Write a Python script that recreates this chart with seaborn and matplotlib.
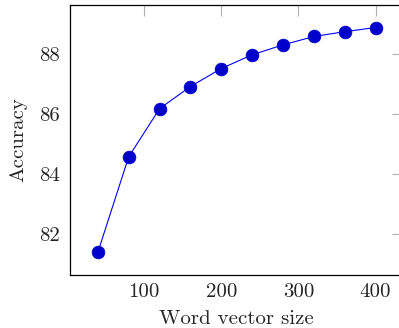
import matplotlib
matplotlib.use("Agg")
import matplotlib.pyplot as plt
import pandas as pd
import seaborn as sns

# Daten
vector_size = [40, 80, 120, 160, 200, 240, 280, 320, 360, 400]
accuracy = [81.38, 84.57, 86.18, 86.92, 87.52, 87.98, 88.31, 88.59, 88.75, 88.89]
x_ticks = [100, 200, 300, 400]
y_ticks = [82, 84, 86, 88]

sns.set_style("white")
plt.rcParams["font.family"] = ["cmr10", "DejaVu Serif"]
plt.rcParams["axes.formatter.use_mathtext"] = True
plt.rcParams["mathtext.fontset"] = "cm"

df = pd.DataFrame({"size": vector_size, "acc": accuracy})

fig = plt.figure(figsize=(3.99, 3.28), dpi=100)
ax = fig.add_axes([70 / 399, (328 - 275) / 328, (403.4 - 70) / 399, (275 - 5) / 328])

sns.lineplot(data=df, x="size", y="acc", ax=ax, color=(0, 0, 1), linewidth=0.8,
             marker="o", markersize=9.2, markerfacecolor=(0, 0, 0.8),
             markeredgecolor=(0, 0, 0.8), markeredgewidth=0.5)

# 10% Rand wie in pgfplots
xr = max(vector_size) - min(vector_size)
yr = max(accuracy) - min(accuracy)
ax.set_xlim(min(vector_size) - 0.1 * xr, max(vector_size) + 0.1 * xr)
ax.set_ylim(min(accuracy) - 0.1 * yr, max(accuracy) + 0.1 * yr)

ax.set_xticks(x_ticks)
ax.set_yticks(y_ticks)
ax.set_xticklabels([str(t) for t in x_ticks])
ax.set_yticklabels([str(t) for t in y_ticks])
ax.tick_params(direction="in", length=8, width=0.8, color="#b0b0b0",
               top=True, right=True, labelsize=15)
ax.tick_params(axis="y", pad=7)
ax.tick_params(axis="x", pad=6)

for s in ax.spines.values():
    s.set_color("black")
    s.set_linewidth(0.9)

ax.set_xlabel("Word vector size", fontsize=15, labelpad=6)
ax.set_ylabel("Accuracy", fontsize=15, labelpad=9)

fig.savefig("out.png", dpi=100)
